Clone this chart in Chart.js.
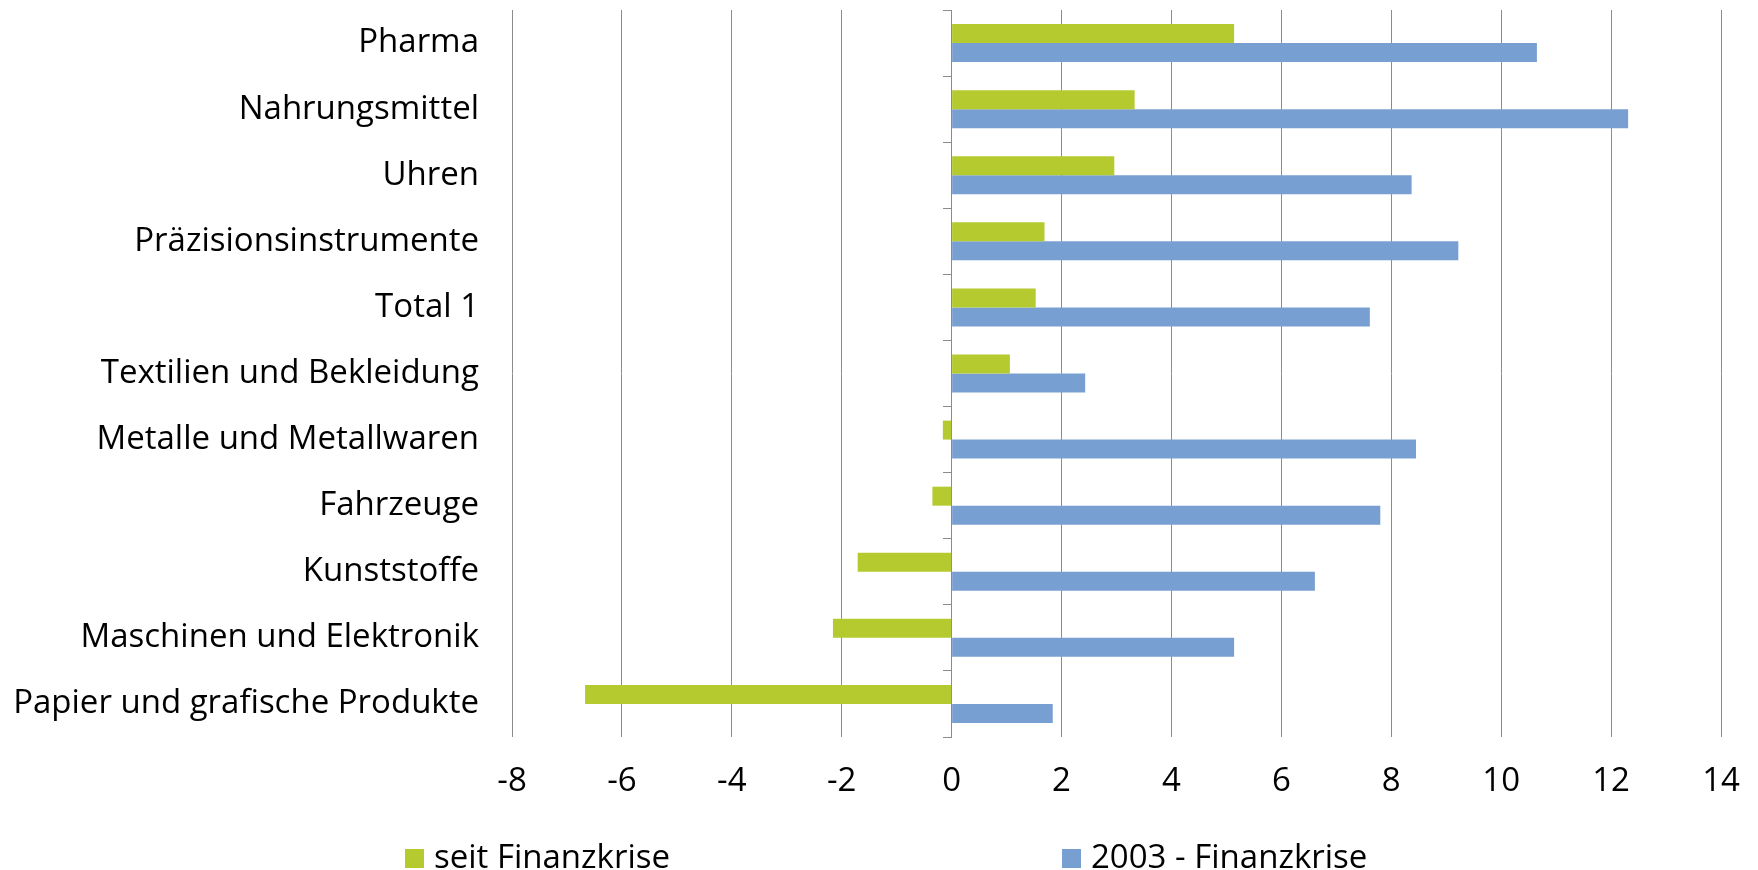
<!DOCTYPE html>
<html>
<head>
<meta charset="utf-8">
<script src="https://cdn.jsdelivr.net/npm/chart.js@4/dist/chart.umd.min.js"></script>
<style>
  html, body { margin: 0; padding: 0; background: #fff; }
  #wrap { position: relative; width: 1758px; height: 870px; overflow: hidden; }
  #legend { position: absolute; top: 836px; left: 0; width: 1758px; height: 40px;
    font-family: "Open Sans", sans-serif; font-size: 33px; color: #000; }
  .item { position: absolute; top: 0; white-space: nowrap; line-height: 40px; }
  .box { display: inline-block; width: 19px; height: 19px; margin-right: 10px; vertical-align: baseline; }
</style>
</head>
<body>
<div id="wrap">
  <canvas id="chart" width="1758" height="870"></canvas>
  <div id="legend"></div>
</div>
<script>
const categories = [
  "Pharma", "Nahrungsmittel", "Uhren", "Präzisionsinstrumente", "Total 1",
  "Textilien und Bekleidung", "Metalle und Metallwaren", "Fahrzeuge",
  "Kunststoffe", "Maschinen und Elektronik", "Papier und grafische Produkte"
];
const seitFinanzkrise = [5.14, 3.33, 2.96, 1.69, 1.53, 1.06, -0.16, -0.35, -1.71, -2.16, -6.67];
const bisFinanzkrise = [10.65, 12.31, 8.37, 9.22, 7.61, 2.43, 8.45, 7.80, 6.61, 5.14, 1.84];
const seriesNames = ["seit Finanzkrise", "2003 - Finanzkrise"];
const seriesColors = ["#b5ca2f", "#789fd1"];

const font = { family: "'Open Sans', sans-serif", size: 33 };
Chart.defaults.color = "#000";

new Chart(document.getElementById("chart").getContext("2d"), {
  type: "bar",
  data: {
    labels: categories,
    datasets: [
      { label: seriesNames[0], data: seitFinanzkrise, backgroundColor: seriesColors[0] },
      { label: seriesNames[1], data: bisFinanzkrise, backgroundColor: seriesColors[1] }
    ]
  },
  options: {
    indexAxis: "y",
    responsive: false,
    animation: false,
    categoryPercentage: 0.575,
    barPercentage: 1,
    layout: { padding: { top: 10, right: 37, bottom: 0, left: 0 } },
    plugins: { legend: { display: false }, tooltip: { enabled: false } },
    scales: {
      x: {
        min: -8, max: 14,
        ticks: { stepSize: 2, font: font, padding: 25 },
        grid: { color: "#8c8c8c", drawTicks: false },
        border: { display: false },
        afterFit: (s) => { s.height = 133; s.paddingLeft = 0; s.paddingRight = 0; }
      },
      y: {
        ticks: { font: font, padding: 33 },
        grid: { display: false, drawTicks: false },
        border: { display: false },
        afterFit: (s) => { s.width = 512; s.paddingTop = 0; s.paddingBottom = 0; }
      },
      y2: {
        type: "category",
        position: { x: 0 },
        ticks: { display: false },
        grid: { drawOnChartArea: false, offset: true, tickLength: 8, color: "#8c8c8c" },
        border: { display: true, color: "#8c8c8c" }
      }
    }
  }
});

const legend = document.getElementById("legend");
const legendLeft = [405, 1062];
seriesNames.forEach((name, i) => {
  const item = document.createElement("div");
  item.className = "item";
  item.style.left = legendLeft[i] + "px";
  item.innerHTML = '<span class="box" style="background:' + seriesColors[i] + '"></span>' + name;
  legend.appendChild(item);
});
</script>
</body>
</html>
